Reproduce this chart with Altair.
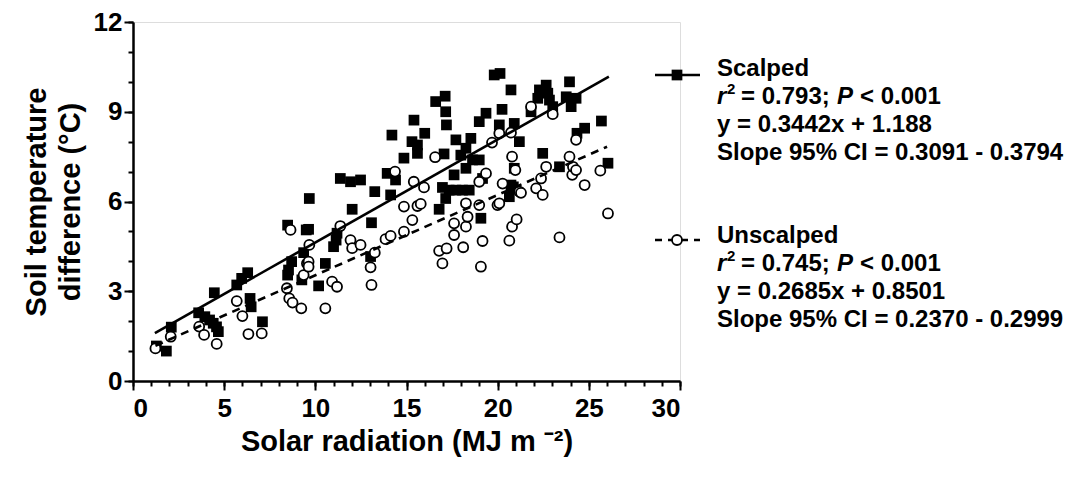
import altair as alt
import pandas as pd

FONT = "Liberation Sans"

# ---- data ----
scalped_x = [1.28, 1.83, 2.1, 3.6, 3.94, 4.2, 4.4, 4.58, 4.68, 4.46, 5.69, 5.96, 6.29, 6.42, 6.48, 7.1,
             8.48, 8.48, 8.53, 8.7, 9.26, 9.36, 9.5, 9.63, 9.67, 10.18, 10.55, 11.0, 11.14, 11.19, 11.37,
             11.93, 12.02, 12.48, 13.03, 13.08, 13.26, 13.94, 14.13, 14.2, 14.4, 14.86, 15.3, 15.41, 15.6,
             15.6, 16.0, 16.6, 16.79, 16.97, 17.06, 17.12, 17.15, 17.15, 17.19, 17.34, 17.61, 17.71, 17.71,
             17.98, 18.07, 18.26, 18.26, 18.44, 18.53, 18.62, 18.99, 18.99, 19.08, 19.17, 19.36, 19.81,
             20.09, 20.13, 20.24, 20.64, 20.73, 20.73, 20.86, 20.91, 20.91, 21.19, 21.83, 22.2, 22.29,
             22.47, 22.66, 22.75, 22.84, 23.02, 23.39, 23.76, 23.94, 24.03, 24.3, 24.35, 24.77, 25.69, 26.05]
scalped_y = [1.17, 1.0, 1.8, 2.28, 2.15, 2.04, 1.93, 1.81, 1.65, 2.95, 3.21, 3.43, 3.62, 2.76, 2.48, 1.98,
             5.21, 3.54, 3.71, 3.99, 3.38, 4.29, 5.05, 5.07, 6.1, 3.18, 3.93, 4.49, 4.71, 4.94, 6.77,
             6.66, 5.74, 6.72, 4.16, 5.29, 6.33, 6.94, 6.22, 8.22, 6.72, 7.45, 8.0, 8.72, 7.89,
             7.61, 8.28, 9.34, 5.74, 6.47, 7.59, 9.52, 9.0, 6.1, 8.56, 6.38, 6.89, 8.06, 6.38,
             7.55, 6.38, 7.78, 7.11, 6.38, 8.11, 7.39, 8.67, 7.39, 5.44, 6.77, 8.95, 10.23,
             8.56, 10.28, 9.08, 6.16, 9.73, 6.55, 6.49, 8.61, 7.11, 8.0, 9.0, 9.45, 9.73,
             7.61, 9.89, 9.62, 9.39, 9.17, 7.16, 9.5, 10.0, 9.17, 9.45, 8.28, 8.45, 8.69, 7.28]

unscalped_x = [1.23, 2.07, 3.63, 3.9, 4.59, 5.69, 6.0, 6.33, 7.06, 8.44, 8.57, 8.64, 8.75, 9.23, 9.36,
               9.54, 9.63, 9.63, 9.67, 10.55, 10.92, 11.19, 11.37, 11.93, 12.02, 12.48, 13.03, 13.08,
               13.26, 13.85, 14.13, 14.37, 14.86, 14.86, 15.32, 15.4, 15.6, 15.78, 15.96, 16.57, 16.79,
               16.97, 17.2, 17.61, 17.61, 18.11, 18.26, 18.26, 18.35, 18.99, 18.99, 19.08, 19.17, 19.36,
               19.69, 19.99, 20.09, 20.09, 20.27, 20.64, 20.73, 20.79, 20.79, 20.97, 21.04, 21.19, 21.28,
               21.83, 22.11, 22.38, 22.47, 22.66, 23.02, 23.39, 23.94, 24.09, 24.13, 24.3, 24.3, 24.77,
               25.63, 26.05]
unscalped_y = [1.09, 1.48, 1.82, 1.54, 1.24, 2.67, 2.17, 1.57, 1.59, 3.1, 2.76, 5.05, 2.62, 2.43, 3.54,
               3.93, 3.99, 3.82, 4.55, 2.43, 3.32, 3.15, 5.18, 4.71, 4.44, 4.55, 3.8, 3.21,
               4.29, 4.74, 4.85, 7.0, 4.99, 5.83, 5.38, 6.66, 5.85, 5.92, 6.47, 7.48, 4.35,
               3.93, 4.43, 5.27, 4.88, 4.47, 5.94, 5.16, 5.49, 6.66, 5.88, 3.82, 4.68, 6.94,
               7.97, 5.88, 8.28, 5.94, 6.6, 4.69, 8.3, 7.5, 5.16, 7.05, 5.4, 6.33, 6.29,
               9.17, 6.44, 6.77, 6.22, 7.16, 8.92, 4.8, 7.5, 6.89, 7.16, 8.06, 7.05, 6.55,
               7.03, 5.6]

fit_names = ["Scalped", "Unscalped"]
fit_slopes = [0.3442, 0.2685]
fit_intercepts = [1.188, 0.8501]
fit_xmin = [1.2, 1.23]
fit_xmax = [26.1, 26.0]

x_major = [0, 5, 10, 15, 20, 25, 30]
x_minor = list(range(0, 31))
y_major = [0, 3, 6, 9, 12]
y_minor = list(range(0, 13))

# ---- tables ----
df_s = pd.DataFrame({"x": scalped_x, "y": scalped_y})
df_u = pd.DataFrame({"x": unscalped_x, "y": unscalped_y})
fit_rows = []
for n, m, b, a, z in zip(fit_names, fit_slopes, fit_intercepts, fit_xmin, fit_xmax):
    fit_rows.append({"group": n, "x": a, "y": m * a + b})
    fit_rows.append({"group": n, "x": z, "y": m * z + b})
df_fit = pd.DataFrame(fit_rows)
one = pd.DataFrame({"k": [0]})

LEFT, TOP = 133, 22
W, H = 547, 359

xscale = alt.Scale(domain=[0, 30], nice=False, zero=False)
yscale = alt.Scale(domain=[0, 12], nice=False, zero=False)

common = dict(grid=False, labelFont=FONT, labelFontWeight=700, labelColor="black",
              titleFont=FONT, titleFontWeight="bold", titleColor="black",
              domainColor="black", domainWidth=2.5, tickColor="black", tickWidth=2)

x_axis = alt.Axis(values=x_major, tickSize=9, labelFontSize=26, labelPadding=5, labelOverlap=False,
                  orient="bottom",
                  title="Solar radiation (MJ m \u207b\u00b2)", titleFontSize=29, titlePadding=6, **common)
y_axis = alt.Axis(values=y_major, tickSize=9, labelFontSize=26, labelPadding=2, labelOverlap=False,
                  orient="left",
                  title=["Soil temperature", "difference (\u00b0C)"], titleFontSize=29, titleLineHeight=34,
                  titlePadding=8, **common)
x_minor_axis = alt.Axis(values=x_minor, tickSize=5, labels=False, domain=False, title=None, orient="bottom",
                        grid=False, tickColor="black", tickWidth=2)
y_minor_axis = alt.Axis(values=y_minor, tickSize=5, labels=False, domain=False, title=None, orient="left",
                        grid=False, tickColor="black", tickWidth=2)

minor = alt.Chart(df_s).mark_point(opacity=0).encode(
    x=alt.X("x:Q", scale=xscale, axis=x_minor_axis),
    y=alt.Y("y:Q", scale=yscale, axis=y_minor_axis),
)
pts_s = alt.Chart(df_s).mark_point(shape="square", filled=True, color="black", size=115, opacity=1).encode(
    x=alt.X("x:Q", scale=xscale, axis=x_axis),
    y=alt.Y("y:Q", scale=yscale, axis=y_axis),
)
pts_u = alt.Chart(df_u).mark_point(shape="circle", filled=False, fill="white", fillOpacity=1, stroke="black",
                                   strokeWidth=1.8, size=100, opacity=1).encode(
    x=alt.X("x:Q", scale=xscale, axis=None),
    y=alt.Y("y:Q", scale=yscale, axis=None),
)
line_s = alt.Chart(df_fit[df_fit.group == "Scalped"]).mark_line(color="black", strokeWidth=2.6).encode(
    x=alt.X("x:Q", scale=xscale, axis=None), y=alt.Y("y:Q", scale=yscale, axis=None))
line_u = alt.Chart(df_fit[df_fit.group == "Unscalped"]).mark_line(color="black", strokeWidth=2.6,
                                                                   strokeDash=[8, 6]).encode(
    x=alt.X("x:Q", scale=xscale, axis=None), y=alt.Y("y:Q", scale=yscale, axis=None))


def txt(s, x, y, size=24, style="normal", dy=0):
    return alt.Chart(one).mark_text(text=s, align="left", baseline="middle", font=FONT, fontSize=size,
                                    fontWeight="bold", fontStyle=style, color="black", dy=dy).encode(
        x=alt.value(x), y=alt.value(y))


TX = 717 - LEFT
legend = []
# legend keys
legend.append(alt.Chart(one).mark_rule(color="black", strokeWidth=2.6).encode(
    x=alt.value(655 - LEFT), x2=alt.value(700 - LEFT), y=alt.value(75 - TOP)))
legend.append(alt.Chart(one).mark_point(shape="square", filled=True, color="black", size=115, opacity=1).encode(
    x=alt.value(677 - LEFT), y=alt.value(75 - TOP)))
legend.append(alt.Chart(one).mark_rule(color="black", strokeWidth=2.6, strokeDash=[7, 6]).encode(
    x=alt.value(655 - LEFT), x2=alt.value(700 - LEFT), y=alt.value(240 - TOP)))
legend.append(alt.Chart(one).mark_point(shape="circle", filled=False, fill="white", fillOpacity=1, stroke="black",
                                        strokeWidth=1.8, size=100, opacity=1).encode(
    x=alt.value(677 - LEFT), y=alt.value(240 - TOP)))

for (name, r2, eq, ci), y0 in zip(
        [("Scalped", "= 0.793;", "y = 0.3442x + 1.188", "Slope 95% CI = 0.3091 - 0.3794"),
         ("Unscalped", "= 0.745;", "y = 0.2685x + 0.8501", "Slope 95% CI = 0.2370 - 0.2999")],
        [69 - TOP, 236 - TOP]):
    legend.append(txt(name, TX, y0))
    legend.append(txt("r", TX, y0 + 28, style="italic"))
    legend.append(txt("2", TX + 10, y0 + 28, size=15, dy=-8))
    legend.append(txt(r2, TX + 24, y0 + 28))
    legend.append(txt("P", TX + 120, y0 + 28, style="italic"))
    legend.append(txt("< 0.001", TX + 143, y0 + 28))
    legend.append(txt(eq, TX, y0 + 56))
    legend.append(txt(ci, TX, y0 + 84))

chart = alt.layer(pts_s, minor, pts_u, line_s, line_u, *legend).resolve_axis(
    x="independent", y="independent"
).properties(
    width=W, height=H,
    autosize=alt.AutoSizeParams(type="none"),
    padding={"left": LEFT, "top": TOP, "right": 1086 - LEFT - W, "bottom": 479 - TOP - H},
).configure_view(stroke=None).configure_axis(
    labelFont=FONT, labelFontWeight="bold", labelColor="black"
).configure(background="white")

chart.save("out.html", embed_options={"renderer": "svg", "actions": False})
